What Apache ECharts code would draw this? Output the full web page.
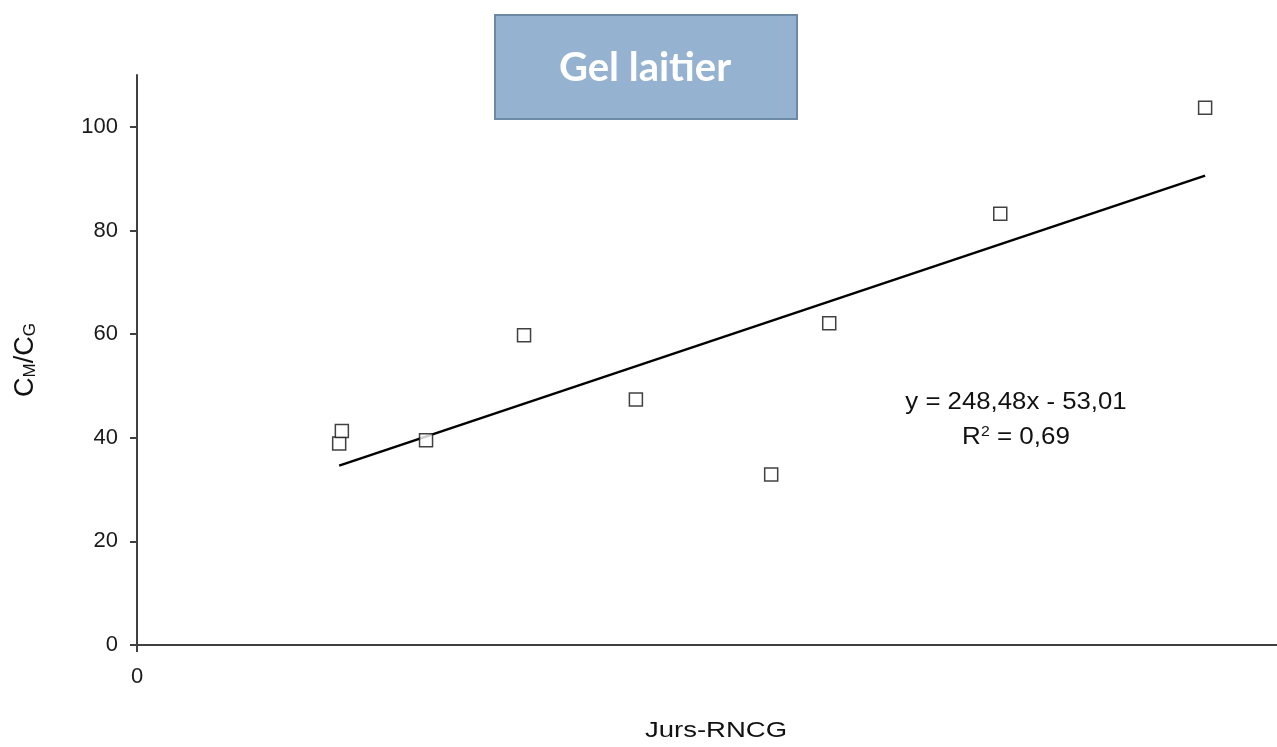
<!DOCTYPE html>
<html>
<head>
<meta charset="utf-8">
<script src="https://cdn.jsdelivr.net/npm/echarts@6/dist/echarts.min.js"></script>
<style>html,body{margin:0;padding:0;background:#fff;overflow:hidden}#c{width:1277px;height:747px}</style>
</head>
<body>
<div id="c"></div>
<script>
// Data
const xValues = [0.3526, 0.3533, 0.3752, 0.4007, 0.4298, 0.4650, 0.4801, 0.5246, 0.5779];
const yValues = [38.9, 41.3, 39.5, 59.8, 47.4, 32.9, 62.1, 83.2, 103.7];
const trendSlope = 248.48;
const trendIntercept = -53.01;
const yTickValues = [0, 20, 40, 60, 80, 100];
const xTickValues = [0.3];
const xTickLabels = ['0'];
const titleText = 'Gel laitier';
const xAxisTitle = 'Jurs-RNCG';
const equationText = 'y = 248,48x - 53,01';
const r2Text = '0,69';

const points = xValues.map((x, i) => [x, yValues[i]]);
const xMin = Math.min(...xValues), xMax = Math.max(...xValues);
const trend = [[xMin, trendSlope * xMin + trendIntercept], [xMax, trendSlope * xMax + trendIntercept]];

const chart = echarts.init(document.getElementById('c'), null, {renderer: 'canvas'});
const font = '"Liberation Sans", Arial, sans-serif';
chart.setOption({
  animation: false,
  backgroundColor: '#ffffff',
  grid: {left: 137, right: 0, top: 75, bottom: 102, containLabel: false, outerBoundsMode: 'none'},
  xAxis: {
    type: 'value', min: 0.3, max: 0.5966,
    splitLine: {show: false},
    axisLine: {onZero: false, lineStyle: {color: '#404040', width: 2}},
    axisTick: {show: true, length: 7, lineStyle: {color: '#404040', width: 2}, customValues: xTickValues},
    axisLabel: {customValues: xTickValues, formatter: v => xTickLabels[xTickValues.indexOf(v)] ?? '', color: '#1a1a1a', fontSize: 22, fontFamily: font, margin: 21}
  },
  yAxis: {
    type: 'value', min: 0, max: 110,
    splitLine: {show: false},
    axisLine: {lineStyle: {color: '#404040', width: 2}},
    axisTick: {show: true, length: 7, lineStyle: {color: '#404040', width: 2}, customValues: yTickValues},
    axisLabel: {customValues: yTickValues, color: '#1a1a1a', fontSize: 22, fontFamily: font, margin: 19},
    name: '{c|C}{s|M}{c|/C}{s|G}', nameLocation: 'middle', nameGap: 98, nameRotate: 90,
    nameTextStyle: {
      rich: {
        c: {fontSize: 27, fontFamily: font, color: '#111'},
        s: {fontSize: 17, fontFamily: font, color: '#111', padding: [9, 0, 0, 0]}
      }
    }
  },
  series: [
    {
      type: 'line', data: trend, symbol: 'none', silent: true,
      lineStyle: {color: '#000', width: 2.5}, z: 2
    },
    {
      type: 'scatter', data: points, symbol: 'rect', symbolSize: 13,
      itemStyle: {color: '#fff', borderColor: '#111', borderWidth: 1.5}, z: 3
    }
  ],
  graphic: [
    {
      type: 'rect', left: 494, top: 14, z: 10,
      shape: {width: 302, height: 104},
      style: {fill: '#95b3d1', stroke: '#6e89a3', lineWidth: 2}
    },
    {
      type: 'text', z: 11, x: 645, y: 68,
      style: {text: titleText, fill: '#fff', font: 'bold 40px Lato, "Open Sans", sans-serif', align: 'center', verticalAlign: 'middle'}
    },
    {
      type: 'text', z: 11, x: 1016, y: 403, scaleX: 1.12,
      style: {text: equationText, fill: '#111', font: '23px ' + font, align: 'center', verticalAlign: 'middle'}
    },
    {
      type: 'text', z: 11, x: 1016, y: 438, scaleX: 1.13,
      style: {
        text: '{a|R}{b|2}{a| = ' + r2Text + '}',
        align: 'center', verticalAlign: 'middle',
        rich: {
          a: {fontSize: 23, fontFamily: font, fill: '#111', color: '#111'},
          b: {fontSize: 14, fontFamily: font, fill: '#111', color: '#111', padding: [0, 0, 11, 0]}
        }
      }
    },
    {
      type: 'text', z: 11, x: 716, y: 731, scaleX: 1.25,
      style: {text: xAxisTitle, fill: '#111', font: '22px ' + font, align: 'center', verticalAlign: 'middle'}
    }
  ]
});
</script>
</body>
</html>
